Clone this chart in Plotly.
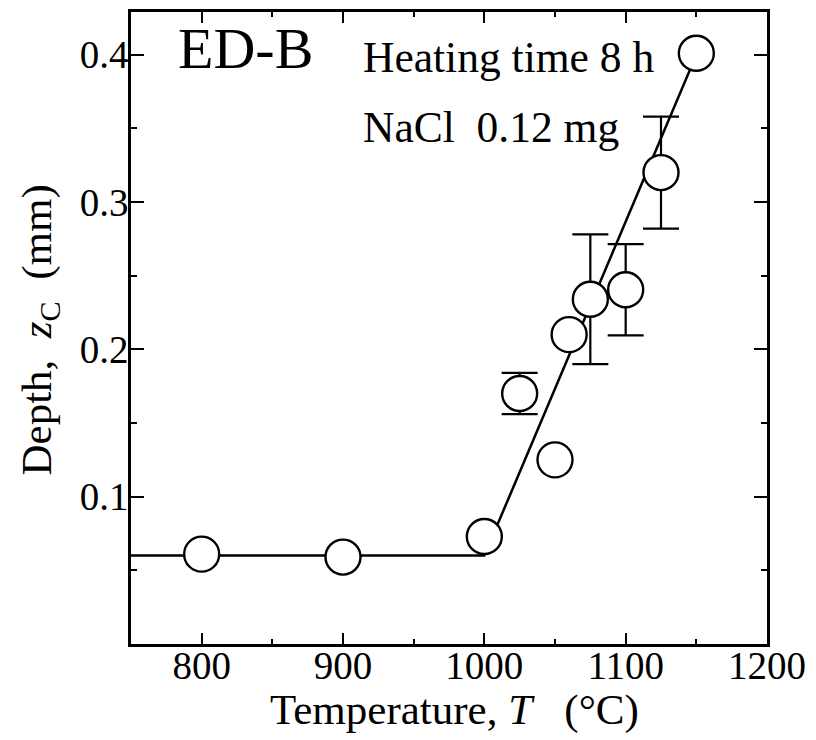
import plotly.graph_objects as go

# Data
temps = [800, 900, 1000, 1025, 1050, 1060, 1075, 1100, 1125, 1150]
depth = [0.061, 0.059, 0.073, 0.170, 0.125, 0.210, 0.234, 0.2405, 0.320, 0.401]
err = [0, 0, 0, 0.014, 0, 0, 0.044, 0.031, 0.038, 0]

fit_x = [750, 1000, 1150]
fit_y = [0.06, 0.06, 0.40]

x_ticks = [800, 900, 1000, 1100, 1200]
y_ticks = [0.1, 0.2, 0.3, 0.4]
y_ticktext = ["0.1", "0.2", "0.3", "0.4"]

FONT = "Liberation Serif, Times New Roman, serif"
NB = "\u00a0"

fig = go.Figure()
fig.add_trace(go.Scatter(x=fit_x, y=fit_y, mode="lines",
                         line=dict(color="black", width=2.5), showlegend=False))
fig.add_trace(go.Scatter(
    x=temps, y=depth, mode="markers",
    marker=dict(symbol="circle", size=35, color="white",
                line=dict(color="black", width=2.4)),
    error_y=dict(type="data", array=err, visible=True, color="black",
                 thickness=2.2, width=18),
    showlegend=False, cliponaxis=False))

axis_common = dict(showgrid=False, zeroline=False, showline=True,
                   linecolor="black", linewidth=2.5, mirror="ticks",
                   ticks="inside", tickcolor="black", tickwidth=2,
                   tickfont=dict(family=FONT, size=39, color="black"))

fig.update_xaxes(range=[750, 1200], tickvals=x_ticks, ticklen=11,
                 ticklabelstandoff=-15,
                 minor=dict(tickvals=[850, 950, 1050, 1150], ticks="inside",
                            ticklen=5, tickwidth=2, tickcolor="black"),
                 **axis_common)
fig.update_yaxes(range=[0, 0.429], tickvals=y_ticks, ticktext=y_ticktext,
                 ticklen=13, ticklabelstandoff=-8,
                 minor=dict(tickvals=[0.05, 0.15, 0.25, 0.35], ticks="inside",
                            ticklen=6, tickwidth=2, tickcolor="black"),
                 **axis_common)

W, H = 636, 635
fig.update_layout(
    width=816, height=740,
    margin=dict(l=131, r=49, t=9, b=96),
    paper_bgcolor="white", plot_bgcolor="white",
    font=dict(family=FONT, color="black"),
    annotations=[
        dict(text=f"Temperature,{NB}<i>T</i>{NB}{NB}{NB}(°C)", xref="paper", yref="paper",
             x=(454 - 131) / W, y=-(684 - 644) / H, xanchor="center", yanchor="top",
             showarrow=False, font=dict(size=43)),
        dict(text=f"Depth,{NB}{NB}<i>z</i><sub>C</sub>{NB}{NB}(mm)", xref="paper", yref="paper",
             x=(69 - 131) / W, y=1 - (328 - 9) / H, xanchor="right", yanchor="middle",
             textangle=-90, showarrow=False, font=dict(size=43)),
        dict(text="ED-B", xref="paper", yref="paper", x=(176 - 131) / W,
             y=1 - (46 - 9) / H, xanchor="left", yanchor="middle",
             showarrow=False, font=dict(size=58)),
        dict(text="Heating time 8 h", xref="paper", yref="paper",
             x=(361 - 131) / W, y=1 - (54 - 9) / H, xanchor="left",
             yanchor="middle", showarrow=False, font=dict(size=43.5)),
        dict(text=f"NaCl{NB}{NB}0.12 mg", xref="paper", yref="paper",
             x=(361 - 131) / W, y=1 - (125 - 9) / H, xanchor="left",
             yanchor="middle", showarrow=False, font=dict(size=43.5)),
    ],
)

fig.write_html("out.html")
